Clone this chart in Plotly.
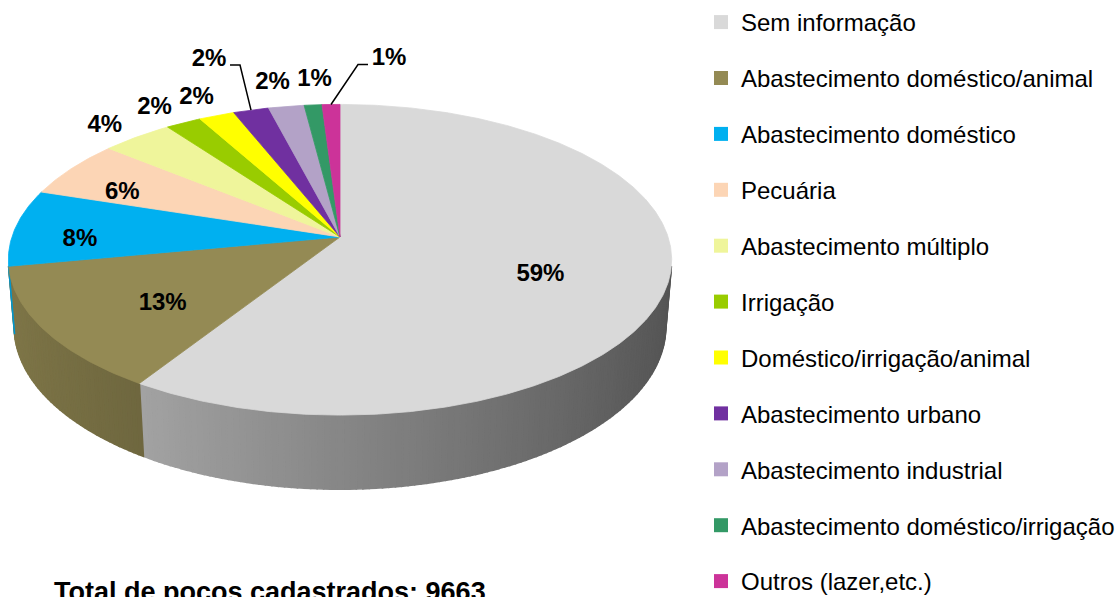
import numpy as np
import plotly.graph_objects as go

# ---------------------------------------------------------------------------
# Data
# ---------------------------------------------------------------------------
categories = [
    "Sem informação",
    "Abastecimento doméstico/animal",
    "Abastecimento doméstico",
    "Pecuária",
    "Abastecimento múltiplo",
    "Irrigação",
    "Doméstico/irrigação/animal",
    "Abastecimento urbano",
    "Abastecimento industrial",
    "Abastecimento doméstico/irrigação",
    "Outros (lazer,etc.)",
]
percent = [59, 13, 8, 6, 4, 2, 2, 2, 2, 1, 1]
colors = ["#D9D9D9", "#948A54", "#00B0F0", "#FCD5B5", "#EFF59B", "#99CC00",
          "#FFFF00", "#7030A0", "#B3A2C7", "#339966", "#CC3399"]
total_wells = 9663

# ---------------------------------------------------------------------------
# Fake-3D pie geometry (perspective view of a short cylinder)
# ---------------------------------------------------------------------------
W, H = 1120, 597
CX, CY = 340, 237          # screen position of the pie centre
SCALE = 1985
DIST = 6.05                # camera distance, in pie radii
ELEV = np.radians(27.6)    # camera elevation
DEPTH = 0.233              # pie thickness, in pie radii
S, C = np.sin(ELEV), np.cos(ELEV)
VIS_LIM = np.degrees(np.arccos(-1 / (DIST * C)))   # wall visible in (VIS_LIM, 360-VIS_LIM)

# labels dragged away from the pie in the original, offset in px from the rim
CALLOUTS = {"Abastecimento urbano": (-42, -50), "Outros (lazer,etc.)": (58, -45)}
FONT = "Arial, Liberation Sans, sans-serif"
LABEL_SIZE = 24
LABEL_HALF_W = 17
OUT_GAP_X, OUT_GAP_Y = 36, 25     # outside-end label offset along the radius
IN_SHIFT_Y = 11                   # inside labels sit a bit low in the original


def project(theta, r=1.0, height=0.0):
    """theta in degrees, clockwise from 12 o'clock; returns screen px."""
    t = np.radians(theta)
    X = r * np.sin(t)
    Z = -r * np.cos(t)
    d = DIST - S * height - C * Z
    sx = X / d
    sy = (C * height - S * Z) / d
    return CX + SCALE * sx, CY - SCALE * sy


def shade(hex_color, f):
    h = hex_color.lstrip("#")
    r, g, b = (int(h[i:i + 2], 16) for i in (0, 2, 4))
    return f"rgb({r * f:.0f},{g * f:.0f},{b * f:.0f})"


def polygon(fig, xs, ys, color, lw=0.8):
    fig.add_trace(go.Scatter(
        x=list(xs) + [xs[0]], y=list(ys) + [ys[0]],
        mode="lines", fill="toself", fillcolor=color,
        line=dict(color=color, width=lw),
        showlegend=False, hoverinfo="skip",
    ))


fig = go.Figure()

edges = np.concatenate([[0], np.cumsum(percent)]) / sum(percent) * 360

# outer walls (front part only), drawn in thin strips for the gradient
for i, col in enumerate(colors):
    a, b = max(edges[i], VIS_LIM), min(edges[i + 1], 360 - VIS_LIM)
    if b <= a:
        continue
    n = max(1, int(np.ceil(b - a)))
    steps = np.linspace(a, b, n + 1)
    for t0, t1 in zip(steps[:-1], steps[1:]):
        ts = np.linspace(t0, t1, 3)
        xt, yt = project(ts)
        xb, yb = project(ts[::-1], height=-DEPTH)
        f = 0.62 - 0.238 * np.sin(np.radians((t0 + t1) / 2))
        polygon(fig, np.concatenate([xt, xb]), np.concatenate([yt, yb]), shade(col, f), lw=1.6)

# top faces
for i, col in enumerate(colors):
    ts = np.linspace(edges[i], edges[i + 1], max(3, int((edges[i + 1] - edges[i]) * 2)))
    xa, ya = project(ts)
    polygon(fig, np.concatenate([[CX], xa]), np.concatenate([[CY], ya]), col)

# percentage labels: inside for big slices, outside end for small ones
lx, ly, lt = [], [], []
prev_out = None
for i, cat in enumerate(categories):
    mid = (edges[i] + edges[i + 1]) / 2
    p = percent[i]
    rx, ry = project(mid)
    if cat in CALLOUTS:
        dx, dy = CALLOUTS[cat]
        tx, ty = rx + dx, ry + dy
        sgn = -np.sign(dx)
        fig.add_trace(go.Scatter(
            x=[rx, tx + sgn * 31, tx + sgn * 21], y=[ry, ty + 5, ty + 5],
            mode="lines", line=dict(color="black", width=1.5),
            showlegend=False, hoverinfo="skip",
        ))
    elif p >= 5:
        tx, ty = project(mid, r=0.62 if p >= 10 else 0.8)
        ty += IN_SHIFT_Y
    else:
        ux, uy = rx - CX, ry - CY
        norm = np.hypot(ux, uy)
        tx = rx + ux / norm * OUT_GAP_X
        ty = ry + uy / norm * OUT_GAP_Y
        if prev_out is not None:
            tx = max(tx, prev_out + 2 * LABEL_HALF_W + 8)
        prev_out = tx
    lx.append(tx)
    ly.append(ty)
    lt.append(f"<b>{p}%</b>")

fig.add_trace(go.Scatter(
    x=lx, y=ly, text=lt, mode="text", textposition="middle center",
    textfont=dict(family=FONT, size=LABEL_SIZE, color="black"),
    showlegend=False, hoverinfo="skip",
))

# legend entries
for cat, col in zip(categories, colors):
    fig.add_trace(go.Scatter(
        x=[None], y=[None], mode="markers", name=cat, legendgroup=cat,
        marker=dict(symbol="square", size=14, color=col),
    ))

fig.add_annotation(
    x=52, y=575, xref="x", yref="y", xanchor="left", yanchor="top",
    text=f"<b>Total de poços cadastrados: {total_wells}</b>",
    showarrow=False, font=dict(family=FONT, size=27, color="black"),
)

fig.update_layout(
    width=W, height=H,
    margin=dict(l=0, r=0, t=0, b=0),
    paper_bgcolor="white", plot_bgcolor="white",
    xaxis=dict(range=[0, W], visible=False, fixedrange=True),
    yaxis=dict(range=[H, 0], visible=False, fixedrange=True),
    showlegend=True,
    legend=dict(
        x=701 / W, y=1, xanchor="left", yanchor="top",
        font=dict(family=FONT, size=24, color="black"),
        tracegroupgap=21.7, bgcolor="rgba(0,0,0,0)",
        itemclick=False, itemdoubleclick=False,
    ),
)

fig.write_html("out.html", config={"displayModeBar": False},
               post_script="document.body.style.margin = '0';")
